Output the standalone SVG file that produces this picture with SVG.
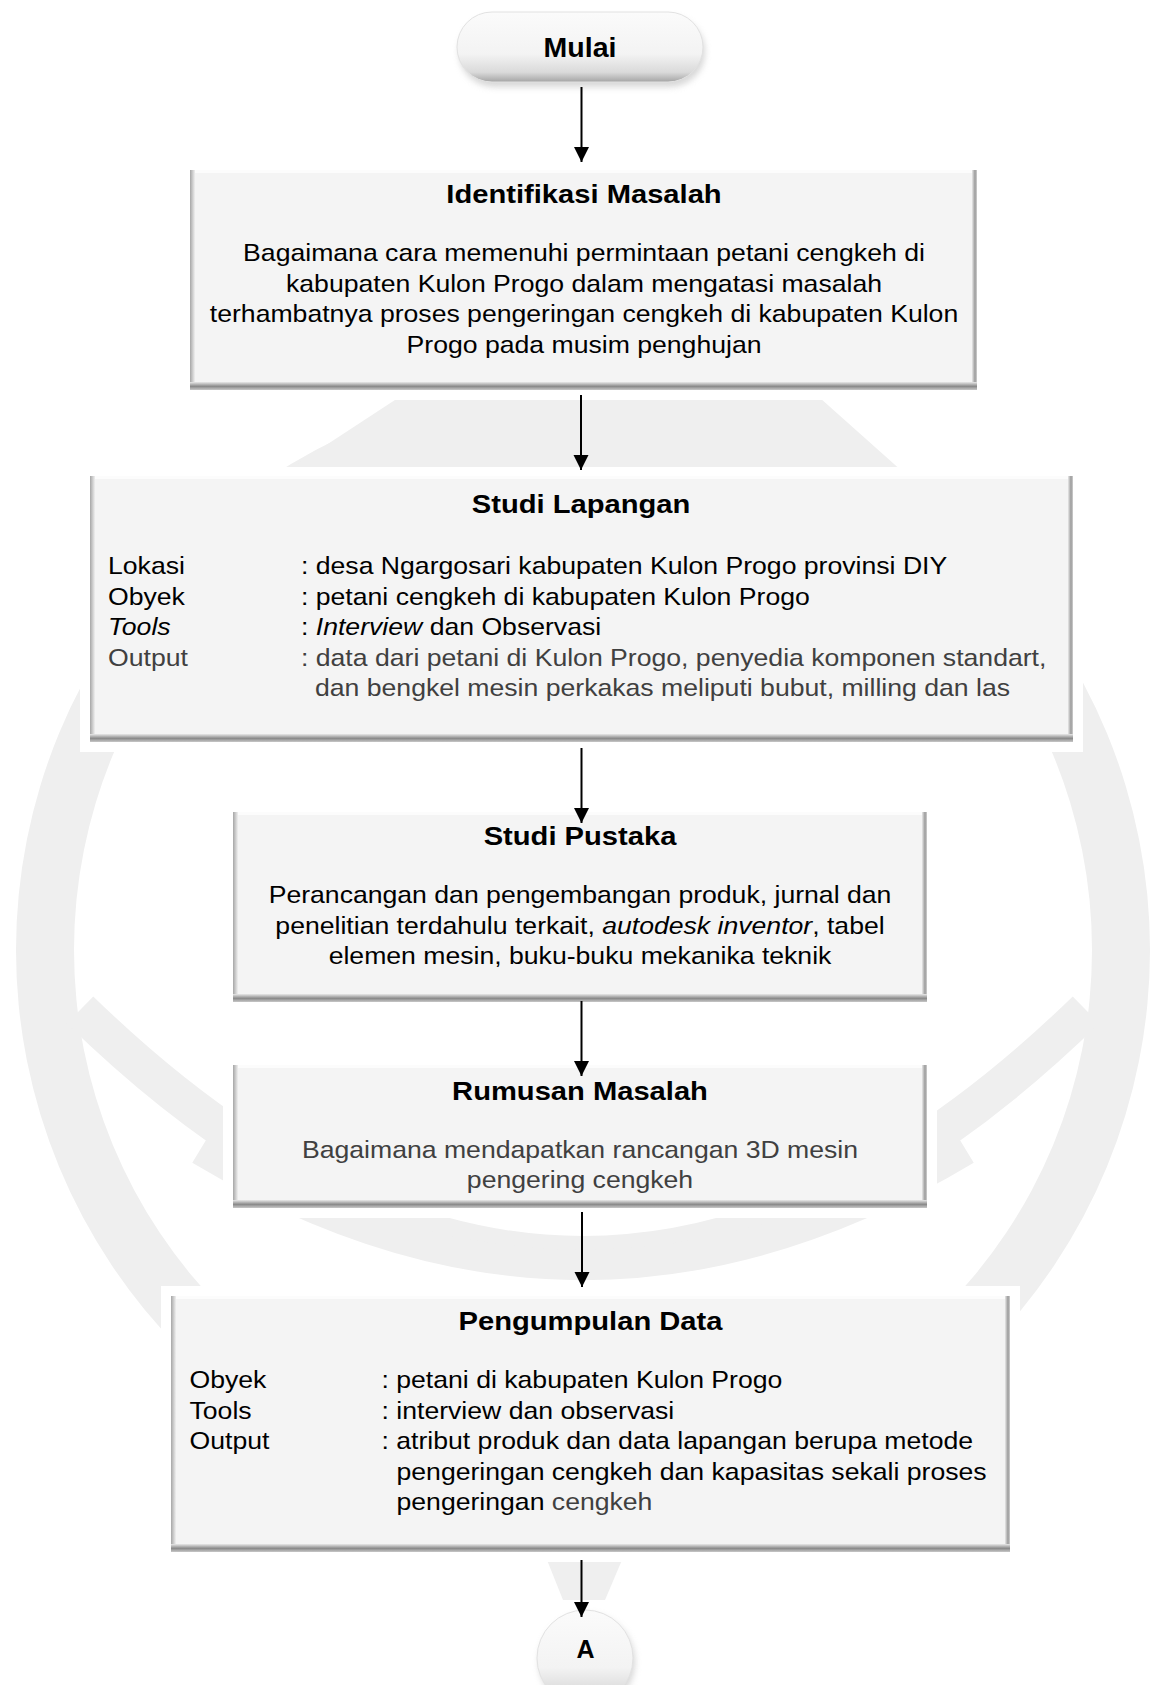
<svg xmlns="http://www.w3.org/2000/svg" width="1155" height="1685" viewBox="0 0 1155 1685">
<style>
text{font-family:"Liberation Sans",Arial,sans-serif;fill:#000}
.h{font-size:26.5px;font-weight:bold;text-anchor:middle}
.b{font-size:24.2px}
.c{text-anchor:middle}
.g{fill:#404040}
.i{font-style:italic}
.t{font-size:28.5px;font-weight:bold;text-anchor:middle}
.halo{fill:#ffffff}
.face{fill:#f4f4f4}
.wm{fill:#efefef}
.conn line{stroke:#000;stroke-width:2;marker-end:url(#arr)}
</style>
<defs>
<marker id="arr" markerUnits="userSpaceOnUse" markerWidth="16" markerHeight="16" refX="15" refY="7.5" orient="auto">
<path d="M0,0 L15,7.5 L0,15 z" fill="#000"/>
</marker>
<linearGradient id="gB" x1="0" y1="0" x2="0" y2="1"><stop offset="0" stop-color="#e8e8e8"/><stop offset="0.55" stop-color="#8a8a8a"/><stop offset="1" stop-color="#c8c8c8"/></linearGradient>
<linearGradient id="gR" x1="0" y1="0" x2="1" y2="0"><stop offset="0" stop-color="#e8e8e8"/><stop offset="0.6" stop-color="#9a9a9a"/><stop offset="1" stop-color="#d0d0d0"/></linearGradient>
<linearGradient id="gL" x1="0" y1="0" x2="1" y2="0"><stop offset="0" stop-color="#a6a6a6"/><stop offset="1" stop-color="#f0f0f0"/></linearGradient>
<linearGradient id="gP" x1="0" y1="0" x2="0" y2="1"><stop offset="0" stop-color="#fbfbfb"/><stop offset="0.6" stop-color="#f3f3f3"/><stop offset="0.86" stop-color="#dadada"/><stop offset="1" stop-color="#a4a4a4"/></linearGradient>
<filter id="sh" x="-20%" y="-20%" width="140%" height="160%"><feGaussianBlur stdDeviation="3"/></filter>
</defs>

<g id="watermark">
<path class="wm" fill-rule="evenodd" d="M16,950 A567,567 0 1 0 1150,950 A567,567 0 1 0 16,950 Z M74,950 A509,509 0 1 0 1092,950 A509,509 0 1 0 74,950 Z"/>
<polygon class="wm" points="398,398 820,398 903,472 285,472"/>
<path d="M80,1010 Q583,1500 1086,1010" fill="none" stroke="#efefef" stroke-width="38"/>
<path d="M200,1150 Q583,1380 966,1150" fill="none" stroke="#efefef" stroke-width="30"/>
<polygon class="wm" points="547,1560 622,1560 605,1600 563,1600"/>
</g>

<g id="mulai">
<rect x="452" y="8" width="256" height="80" rx="40" fill="#ffffff"/>
<rect x="459" y="17" width="246" height="70" rx="35" fill="#bdbdbd" filter="url(#sh)" opacity="0.6"/>
<rect x="457" y="12" width="246" height="70" rx="35" fill="url(#gP)" stroke="#e2e2e2" stroke-width="1"/>
<text class="t" x="580" y="57">Mulai</text>
</g>

<g id="identifikasi">
<rect class="halo" x="180" y="160" width="807" height="240"/>
<rect class="face" x="190" y="170" width="787" height="220"/>
<rect x="190" y="170" width="5" height="220" fill="url(#gL)"/>
<rect x="972" y="170" width="5" height="220" fill="url(#gR)"/>
<rect x="190" y="382" width="787" height="8" fill="url(#gB)"/>
<rect x="195" y="170" width="777" height="3" fill="#fcfcfc"/>
<text class="h" transform="translate(584,203) scale(1.1,1)">Identifikasi Masalah</text>
<text class="b c" transform="translate(584,261) scale(1.1,1)">Bagaimana cara memenuhi permintaan petani cengkeh di</text>
<text class="b c" transform="translate(584,291.5) scale(1.1,1)">kabupaten Kulon Progo dalam mengatasi masalah</text>
<text class="b c" transform="translate(584,322) scale(1.1,1)">terhambatnya proses pengeringan cengkeh di kabupaten Kulon</text>
<text class="b c" transform="translate(584,352.5) scale(1.1,1)">Progo pada musim penghujan</text>
</g>

<g id="studi-lapangan">
<rect class="halo" x="80" y="467" width="1003" height="285"/>
<rect class="face" x="90" y="476" width="983" height="266"/>
<rect x="90" y="476" width="5" height="266" fill="url(#gL)"/>
<rect x="1068" y="476" width="5" height="266" fill="url(#gR)"/>
<rect x="90" y="734" width="983" height="8" fill="url(#gB)"/>
<rect x="95" y="476" width="973" height="3" fill="#fcfcfc"/>
<text class="h" transform="translate(581,513) scale(1.1,1)">Studi Lapangan</text>
<text class="b" transform="translate(108,574) scale(1.1,1)">Lokasi</text>
<text class="b" transform="translate(301,574) scale(1.1,1)">: desa Ngargosari kabupaten Kulon Progo provinsi DIY</text>
<text class="b" transform="translate(108,604.5) scale(1.1,1)">Obyek</text>
<text class="b" transform="translate(301,604.5) scale(1.1,1)">: petani cengkeh di kabupaten Kulon Progo</text>
<text class="b i" transform="translate(108,635) scale(1.1,1)">Tools</text>
<text class="b" transform="translate(301,635) scale(1.1,1)">: <tspan class="i">Interview</tspan> dan Observasi</text>
<text class="b g" transform="translate(108,665.5) scale(1.1,1)">Output</text>
<text class="b g" transform="translate(301,665.5) scale(1.1,1)">: data dari petani di Kulon Progo, penyedia komponen standart,</text>
<text class="b g" transform="translate(315,696) scale(1.1,1)">dan bengkel mesin perkakas meliputi bubut, milling dan las</text>
</g>

<g id="studi-pustaka">
<rect class="halo" x="223" y="802" width="714" height="210"/>
<rect class="face" x="233" y="812" width="694" height="190"/>
<rect x="233" y="812" width="5" height="190" fill="url(#gL)"/>
<rect x="922" y="812" width="5" height="190" fill="url(#gR)"/>
<rect x="233" y="994" width="694" height="8" fill="url(#gB)"/>
<rect x="238" y="812" width="684" height="3" fill="#fcfcfc"/>
<text class="h" transform="translate(580,845) scale(1.1,1)">Studi Pustaka</text>
<text class="b c" transform="translate(580,903) scale(1.1,1)">Perancangan dan pengembangan produk, jurnal dan</text>
<text class="b c" transform="translate(580,933.5) scale(1.1,1)">penelitian terdahulu terkait, <tspan class="i">autodesk inventor</tspan>, tabel</text>
<text class="b c" transform="translate(580,964) scale(1.1,1)">elemen mesin, buku-buku mekanika teknik</text>
</g>

<g id="rumusan-masalah">
<rect class="halo" x="223" y="1055" width="714" height="163"/>
<rect class="face" x="233" y="1065" width="694" height="143"/>
<rect x="233" y="1065" width="5" height="143" fill="url(#gL)"/>
<rect x="922" y="1065" width="5" height="143" fill="url(#gR)"/>
<rect x="233" y="1200" width="694" height="8" fill="url(#gB)"/>
<rect x="238" y="1065" width="684" height="3" fill="#fcfcfc"/>
<text class="h" transform="translate(580,1100) scale(1.1,1)">Rumusan Masalah</text>
<text class="b c g" transform="translate(580,1157.5) scale(1.1,1)">Bagaimana mendapatkan rancangan 3D mesin</text>
<text class="b c g" transform="translate(580,1187.5) scale(1.1,1)">pengering cengkeh</text>
</g>

<g id="pengumpulan-data">
<rect class="halo" x="161" y="1286" width="859" height="276"/>
<rect class="face" x="171" y="1296" width="839" height="256"/>
<rect x="171" y="1296" width="5" height="256" fill="url(#gL)"/>
<rect x="1005" y="1296" width="5" height="256" fill="url(#gR)"/>
<rect x="171" y="1544" width="839" height="8" fill="url(#gB)"/>
<rect x="176" y="1296" width="829" height="3" fill="#fcfcfc"/>
<text class="h" transform="translate(590.5,1330) scale(1.1,1)">Pengumpulan Data</text>
<text class="b" transform="translate(189.5,1388) scale(1.1,1)">Obyek</text>
<text class="b" transform="translate(381.5,1388) scale(1.1,1)">: petani di kabupaten Kulon Progo</text>
<text class="b" transform="translate(189.5,1419) scale(1.1,1)">Tools</text>
<text class="b" transform="translate(381.5,1419) scale(1.1,1)">: interview dan observasi</text>
<text class="b" transform="translate(189.5,1449) scale(1.1,1)">Output</text>
<text class="b" transform="translate(381.5,1449) scale(1.1,1)">: atribut produk dan data lapangan berupa metode</text>
<text class="b" transform="translate(396.5,1480) scale(1.1,1)">pengeringan cengkeh dan kapasitas sekali proses</text>
<text class="b" transform="translate(396.5,1510) scale(1.1,1)">pengeringan <tspan class="g">cengkeh</tspan></text>
</g>

<g id="connector-a">
<ellipse cx="585" cy="1658" rx="53" ry="53" fill="#ffffff"/>
<ellipse cx="587" cy="1662" rx="48" ry="48" fill="#bdbdbd" filter="url(#sh)" opacity="0.6"/>
<ellipse cx="585" cy="1658" rx="48" ry="48" fill="url(#gP)" stroke="#e2e2e2" stroke-width="1"/>
<text class="t" style="font-size:25px" x="585.5" y="1658">A</text>
</g>

<g id="connectors" class="conn">
<line x1="581.5" y1="87" x2="581.5" y2="162"/>
<line x1="581" y1="395" x2="581" y2="470"/>
<line x1="581.5" y1="748" x2="581.5" y2="823"/>
<line x1="581.5" y1="1001" x2="581.5" y2="1076"/>
<line x1="582" y1="1212" x2="582" y2="1287"/>
<line x1="581.5" y1="1560" x2="581.5" y2="1617"/>
</g>
</svg>
